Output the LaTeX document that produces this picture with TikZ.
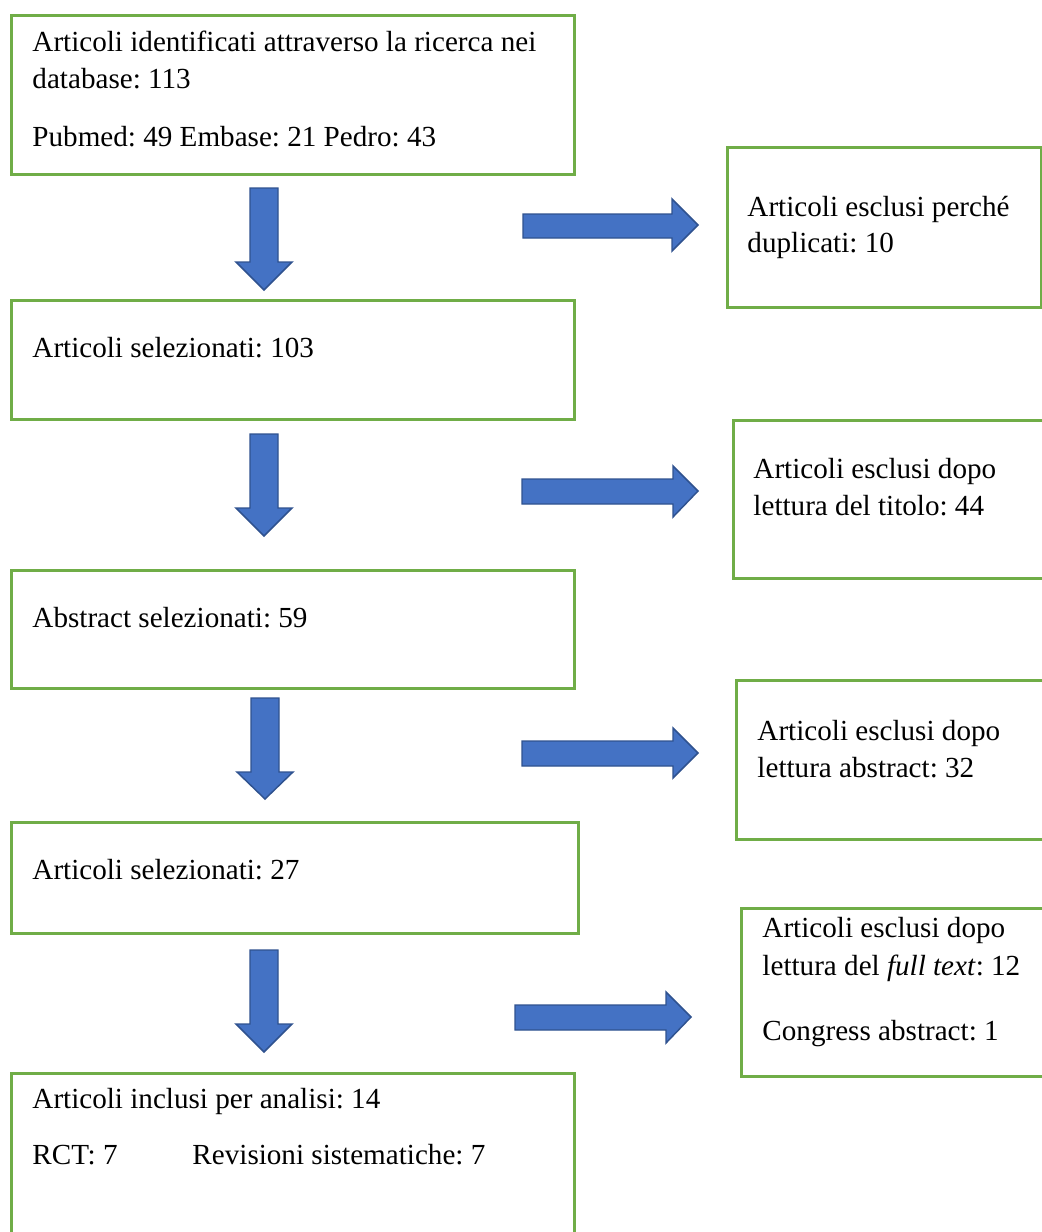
\documentclass[tikz,border=0pt]{standalone}
\usepackage{fontspec}
\setmainfont{Liberation Serif}
\definecolor{boxgreen}{HTML}{70AD47}
\definecolor{arrowblue}{HTML}{4472C4}
\definecolor{arrowedge}{HTML}{2F528F}
\frenchspacing
\begin{document}
\begin{tikzpicture}[x=0.412pt,y=-0.412pt,
  box/.style={draw=boxgreen, line width=1.2pt, inner sep=0pt, anchor=north west},
  txt/.style={anchor=base west, inner sep=0pt, font=\fontsize{12}{14}\selectfont},
  blockarrow/.style={fill=arrowblue, draw=arrowedge, line width=0.6pt, line join=miter}]
\useasboundingbox (0,0) rectangle (1042,1232);
\clip (0,0) rectangle (1042,1232);

% main boxes
\node[box, minimum width={563*0.412pt}, minimum height={159*0.412pt}] (b1) at (10,14) {};
\node[box, minimum width={563*0.412pt}, minimum height={119*0.412pt}] (b2) at (10,299) {};
\node[box, minimum width={563*0.412pt}, minimum height={118*0.412pt}] (b3) at (10,569) {};
\node[box, minimum width={567*0.412pt}, minimum height={111*0.412pt}] (b4) at (10,821) {};
\node[box, minimum width={563*0.412pt}, minimum height={172*0.412pt}] (b5) at (10,1072) {};

% side boxes
\node[box, minimum width={314*0.412pt}, minimum height={160*0.412pt}] (r1) at (726,146) {};
\node[box, minimum width={316*0.412pt}, minimum height={158*0.412pt}] (r2) at (732,419) {};
\node[box, minimum width={313*0.412pt}, minimum height={159*0.412pt}] (r3) at (735,679) {};
\node[box, minimum width={308*0.412pt}, minimum height={168*0.412pt}] (r4) at (740,907) {};

% texts
\node[txt] (t1a) at (32,52) {Articoli identificati attraverso la ricerca nei};
\node[txt] (t1b) at (32,89) {database: 113};
\node[txt] (t1c) at (32,147) {Pubmed: 49 Embase: 21 Pedro: 43};
\node[txt] (t2) at (32,357) {Articoli selezionati: 103};
\node[txt] (t3) at (32,627) {Abstract selezionati: 59};
\node[txt] (t4) at (32,879) {Articoli selezionati: 27};
\node[txt] (t5a) at (32,1108) {Articoli inclusi per analisi: 14};
\node[txt] (t5b) at (32,1164) {RCT: 7};
\node[txt] (t5c) at (192,1164) {Revisioni sistematiche: 7};

\node[txt] (s1a) at (747,216) {Articoli esclusi perché};
\node[txt] (s1b) at (747,252) {duplicati: 10};
\node[txt] (s2a) at (753,478) {Articoli esclusi dopo};
\node[txt] (s2b) at (753,515) {lettura del titolo: 44};
\node[txt] (s3a) at (757,740) {Articoli esclusi dopo};
\node[txt] (s3b) at (757,777) {lettura abstract: 32};
\node[txt] (s4a) at (762,937) {Articoli esclusi dopo};
\node[txt] (s4b) at (762,975) {lettura del \textit{full text}: 12};
\node[txt] (s4c) at (762,1040) {Congress abstract: 1};

% down block arrows
\draw[blockarrow] (250,188) -- (278,188) -- (278,262) -- (292,262) -- (264,290) -- (236,262) -- (250,262) -- cycle;
\draw[blockarrow] (250,434) -- (278,434) -- (278,508) -- (292,508) -- (264,536) -- (236,508) -- (250,508) -- cycle;
\draw[blockarrow] (251,698) -- (279,698) -- (279,772) -- (293,772) -- (265,799) -- (237,772) -- (251,772) -- cycle;
\draw[blockarrow] (250,950) -- (278,950) -- (278,1024) -- (292,1024) -- (264,1052) -- (236,1024) -- (250,1024) -- cycle;

% right block arrows
\draw[blockarrow] (523,214) -- (672,214) -- (672,199) -- (698,225) -- (672,251) -- (672,238) -- (523,238) -- cycle;
\draw[blockarrow] (522,479) -- (673,479) -- (673,466) -- (698,491) -- (673,517) -- (673,504) -- (522,504) -- cycle;
\draw[blockarrow] (522,741) -- (673,741) -- (673,728) -- (698,753) -- (673,778) -- (673,766) -- (522,766) -- cycle;
\draw[blockarrow] (515,1005) -- (666,1005) -- (666,992) -- (691,1017) -- (666,1043) -- (666,1030) -- (515,1030) -- cycle;
\end{tikzpicture}
\end{document}
